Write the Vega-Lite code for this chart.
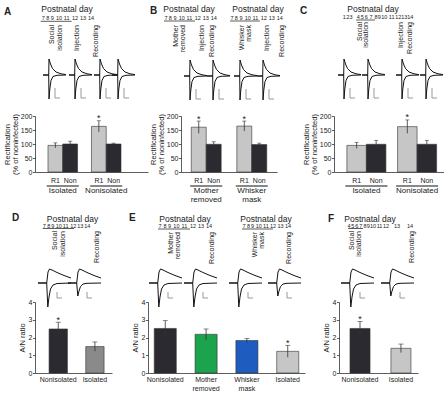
{
"$schema": "https://vega.github.io/schema/vega-lite/v6.json",
"background": "white",
"padding": {"left": 0, "top": 0, "right": 0, "bottom": 0},
"config": {
  "font": "Liberation Sans",
  "view": {"stroke": null},
  "text": {"color": "#222"},
  "axis": {"grid": false, "labelColor": "#222", "titleColor": "#222", "domainColor": "#333", "tickColor": "#333", "domainWidth": 0.8, "tickWidth": 0.8, "labelFontSize": 7, "titleFontSize": 7.5, "titleFontWeight": "normal"},
  "axisY": {"tickCount": 5, "labelOverlap": false},
  "concat": {"spacing": 0}
},
"datasets": {
  "rec": [
    {"c":"u","i":0,"t":-6,"v":0},{"c":"u","i":1,"t":-0.3,"v":0},{"c":"u","i":2,"t":0,"v":16},{"c":"u","i":3,"t":1.5,"v":11},{"c":"u","i":4,"t":3.5,"v":6.5},{"c":"u","i":5,"t":7,"v":3},{"c":"u","i":6,"t":12,"v":1.2},{"c":"u","i":7,"t":17,"v":0.4},
    {"c":"d","i":0,"t":-6,"v":0},{"c":"d","i":1,"t":-0.3,"v":0},{"c":"d","i":2,"t":0,"v":-24},{"c":"d","i":3,"t":0.8,"v":-14},{"c":"d","i":4,"t":2,"v":-5.5},{"c":"d","i":5,"t":4,"v":-1.5},{"c":"d","i":6,"t":8,"v":-0.3},{"c":"d","i":7,"t":17,"v":0},
    {"c":"s","i":0,"t":6,"v":-13},{"c":"s","i":1,"t":6,"v":-23},{"c":"s","i":2,"t":11,"v":-23}
  ],
  "an": [
    {"c":"u","i":0,"t":-9,"v":0},{"c":"u","i":1,"t":-0.3,"v":0},{"c":"u","i":2,"t":1,"v":11},{"c":"u","i":3,"t":2.5,"v":14},{"c":"u","i":4,"t":5,"v":13},{"c":"u","i":5,"t":10,"v":10.5},{"c":"u","i":6,"t":17,"v":7.5},{"c":"u","i":7,"t":24,"v":5},
    {"c":"d","i":0,"t":-9,"v":0},{"c":"d","i":1,"t":-0.3,"v":0},{"c":"d","i":2,"t":0.8,"v":-24},{"c":"d","i":3,"t":2,"v":-14},{"c":"d","i":4,"t":3.5,"v":-6},{"c":"d","i":5,"t":6,"v":-2},{"c":"d","i":6,"t":10,"v":-0.5},{"c":"d","i":7,"t":24,"v":0},
    {"c":"s","i":0,"t":10,"v":-9},{"c":"s","i":1,"t":10,"v":-15},{"c":"s","i":2,"t":15,"v":-15}
  ],
  "an2": [
    {"c":"u","i":0,"t":-9,"v":0},{"c":"u","i":1,"t":-0.3,"v":0},{"c":"u","i":2,"t":1,"v":11},{"c":"u","i":3,"t":2.5,"v":14},{"c":"u","i":4,"t":5,"v":13},{"c":"u","i":5,"t":10,"v":10.5},{"c":"u","i":6,"t":17,"v":7.5},{"c":"u","i":7,"t":24,"v":5},
    {"c":"d","i":0,"t":-9,"v":0},{"c":"d","i":1,"t":-0.3,"v":0},{"c":"d","i":2,"t":0.8,"v":-13},{"c":"d","i":3,"t":2,"v":-8},{"c":"d","i":4,"t":3.5,"v":-3.5},{"c":"d","i":5,"t":6,"v":-1},{"c":"d","i":6,"t":10,"v":-0.3},{"c":"d","i":7,"t":24,"v":0},
    {"c":"s","i":0,"t":10,"v":-9},{"c":"s","i":1,"t":10,"v":-15},{"c":"s","i":2,"t":15,"v":-15}
  ],
  "hA": [
    {"k":"P","t":"","x":-34,"y":206},
    {"k":"L","t":"A","x":-31,"y":11.5},
    {"k":"T","t":"Postnatal day","x":32,"y":8.5},
    {"k":"D","t":"7","x":8.3,"y":17.5},{"k":"D","t":"8","x":12.7,"y":17.5},{"k":"D","t":"9","x":17.3,"y":17.5},{"k":"D","t":"10","x":24,"y":17.5},{"k":"D","t":"11","x":31.7,"y":17.5},{"k":"D","t":"12","x":40,"y":17.5},{"k":"D","t":"13","x":48,"y":17.5},{"k":"D","t":"14","x":56,"y":17.5},
    {"k":"U","t":"","x":5.7,"x2":36.7,"y":21.3},
    {"k":"R","t":"Social","x":17,"y":25},{"k":"R","t":"isolation","x":25,"y":25},{"k":"R","t":"Injection","x":42,"y":25},{"k":"R","t":"Recording","x":61,"y":25}
  ],
  "hB": [
    {"k":"L","t":"B","x":-31,"y":11},
    {"k":"T","t":"Postnatal day","x":8,"y":8.5},{"k":"T","t":"Postnatal day","x":77,"y":8.5},
    {"k":"D","t":"7","x":-15,"y":17.5},{"k":"D","t":"8","x":-10.6,"y":17.5},{"k":"D","t":"9","x":-6,"y":17.5},{"k":"D","t":"10","x":0.7,"y":17.5},{"k":"D","t":"11","x":8.4,"y":17.5},{"k":"D","t":"12","x":16.7,"y":17.5},{"k":"D","t":"13","x":24.7,"y":17.5},{"k":"D","t":"14","x":32.7,"y":17.5},
    {"k":"D","t":"7","x":51,"y":17.5},{"k":"D","t":"8","x":55.4,"y":17.5},{"k":"D","t":"9","x":60,"y":17.5},{"k":"D","t":"10","x":66.7,"y":17.5},{"k":"D","t":"11","x":74.4,"y":17.5},{"k":"D","t":"12","x":82.7,"y":17.5},{"k":"D","t":"13","x":90.7,"y":17.5},{"k":"D","t":"14","x":98.7,"y":17.5},
    {"k":"U","t":"","x":-17,"x2":14,"y":21},{"k":"U","t":"","x":49,"x2":79,"y":21},
    {"k":"R","t":"Mother","x":-5,"y":25},{"k":"R","t":"removed","x":2,"y":25},{"k":"R","t":"Injection","x":21,"y":25},{"k":"R","t":"Recording","x":31,"y":25},
    {"k":"R","t":"Whisker","x":61,"y":25},{"k":"R","t":"mask","x":68,"y":25},{"k":"R","t":"Injection","x":86,"y":25},{"k":"R","t":"Recording","x":101,"y":25}
  ],
  "hC": [
    {"k":"L","t":"C","x":-34,"y":11},
    {"k":"T","t":"Postnatal day","x":39,"y":8.5},
    {"k":"D","t":"1","x":10.3,"y":16.5},{"k":"D","t":"2","x":13.7,"y":16.5},{"k":"D","t":"3","x":17,"y":16.5},{"k":"D","t":"4","x":24.3,"y":16.5},{"k":"D","t":"5","x":28.3,"y":16.5},{"k":"D","t":"6","x":32.3,"y":16.5},{"k":"D","t":"7","x":37,"y":16.5},{"k":"D","t":"8","x":42,"y":16.5},{"k":"D","t":"9","x":45.3,"y":16.5},{"k":"D","t":"10","x":50.3,"y":16.5},{"k":"D","t":"11","x":57.7,"y":16.5},{"k":"D","t":"12","x":64.3,"y":16.5},{"k":"D","t":"13","x":70.3,"y":16.5},{"k":"D","t":"14","x":76.3,"y":16.5},
    {"k":"U","t":"","x":22,"x2":41,"y":20},
    {"k":"R","t":"Social","x":26,"y":22},{"k":"R","t":"isolation","x":32,"y":22},{"k":"R","t":"Injection","x":67,"y":22},{"k":"R","t":"Recording","x":76,"y":22}
  ],
  "hD": [
    {"k":"P","t":"","x":-34,"y":0},
    {"k":"L","t":"D","x":-23,"y":10},
    {"k":"T","t":"Postnatal day","x":37.5,"y":10.5},
    {"k":"D","t":"7","x":9.3,"y":17.5},{"k":"D","t":"8","x":13.7,"y":17.5},{"k":"D","t":"9","x":17.7,"y":17.5},{"k":"D","t":"10","x":23.7,"y":17.5},{"k":"D","t":"11","x":30.7,"y":17.5},{"k":"D","t":"12","x":38.3,"y":17.5},{"k":"D","t":"13","x":45.3,"y":17.5},{"k":"D","t":"14","x":52.3,"y":17.5},
    {"k":"U","t":"","x":7.7,"x2":39,"y":20.5},
    {"k":"R","t":"Social","x":20,"y":23},{"k":"R","t":"isolation","x":27.7,"y":23},{"k":"R","t":"Recording","x":61.7,"y":23}
  ],
  "hE": [
    {"k":"L","t":"E","x":-19,"y":10},
    {"k":"T","t":"Postnatal day","x":37,"y":10.5},{"k":"T","t":"Postnatal day","x":118,"y":10.5},
    {"k":"D","t":"7","x":12,"y":18},{"k":"D","t":"8","x":17,"y":18},{"k":"D","t":"9","x":21.6,"y":18},{"k":"D","t":"10","x":28.4,"y":18},{"k":"D","t":"11","x":36.4,"y":18},{"k":"D","t":"12","x":45,"y":18},{"k":"D","t":"13","x":53,"y":18},{"k":"D","t":"14","x":61,"y":18},
    {"k":"D","t":"7","x":96,"y":18},{"k":"D","t":"8","x":100.5,"y":18},{"k":"D","t":"9","x":104.6,"y":18},{"k":"D","t":"10","x":110.7,"y":18},{"k":"D","t":"11","x":117.9,"y":18},{"k":"D","t":"12","x":125,"y":18},{"k":"D","t":"13","x":132.5,"y":18},{"k":"D","t":"14","x":140,"y":18},
    {"k":"U","t":"","x":10,"x2":42,"y":21},{"k":"U","t":"","x":94,"x2":125,"y":21},
    {"k":"R","t":"Mother","x":23,"y":24},{"k":"R","t":"removed","x":30,"y":24},{"k":"R","t":"Recording","x":64,"y":24},
    {"k":"R","t":"Whisker","x":107,"y":24},{"k":"R","t":"mask","x":114,"y":24},{"k":"R","t":"Recording","x":141,"y":24}
  ],
  "hF": [
    {"k":"L","t":"F","x":-11,"y":11},
    {"k":"T","t":"Postnatal day","x":31,"y":10.5},
    {"k":"D","t":"4","x":10,"y":18},{"k":"D","t":"5","x":13.7,"y":18},{"k":"D","t":"6","x":17.7,"y":18},{"k":"D","t":"7","x":21.7,"y":18},{"k":"D","t":"8","x":26,"y":18},{"k":"D","t":"9","x":29.3,"y":18},{"k":"D","t":"10","x":34,"y":18},{"k":"D","t":"11","x":40.5,"y":18},{"k":"D","t":"12","x":47,"y":18},{"k":"D","t":"13","x":58,"y":18},{"k":"D","t":"14","x":71,"y":18},
    {"k":"U","t":"","x":9,"x2":24,"y":20.5},
    {"k":"R","t":"Social","x":12.7,"y":23},{"k":"R","t":"isolation","x":20.3,"y":23},{"k":"R","t":"Recording","x":72.7,"y":23}
  ],
  "bA": [
    {"g":"Isolated","type":"R1","value":95,"lo":86,"hi":104,"sig":""},
    {"g":"Isolated","type":"Non","value":100,"lo":90,"hi":110,"sig":""},
    {"g":"Nonisolated","type":"R1","value":163,"lo":143,"hi":183,"sig":"*"},
    {"g":"Nonisolated","type":"Non","value":100,"lo":97,"hi":103,"sig":""}
  ],
  "bB": [
    {"g":"Mother removed","type":"R1","value":160,"lo":138,"hi":182,"sig":"*"},
    {"g":"Mother removed","type":"Non","value":99,"lo":90,"hi":108,"sig":""},
    {"g":"Whisker mask","type":"R1","value":164,"lo":146,"hi":182,"sig":"*"},
    {"g":"Whisker mask","type":"Non","value":98,"lo":94,"hi":103,"sig":""}
  ],
  "bC": [
    {"g":"Isolated","type":"R1","value":95,"lo":84,"hi":106,"sig":""},
    {"g":"Isolated","type":"Non","value":99,"lo":86,"hi":113,"sig":""},
    {"g":"Nonisolated","type":"R1","value":162,"lo":138,"hi":186,"sig":"*"},
    {"g":"Nonisolated","type":"Non","value":99,"lo":86,"hi":113,"sig":""}
  ],
  "bD": [
    {"g":"Nonisolated","value":2.48,"lo":2.1,"hi":2.86,"sig":"*"},
    {"g":"Isolated","value":1.49,"lo":1.23,"hi":1.75,"sig":""}
  ],
  "bE": [
    {"g":"Nonisolated","value":2.51,"lo":2.07,"hi":2.95,"sig":""},
    {"g":"Mother removed","value":2.18,"lo":1.87,"hi":2.48,"sig":""},
    {"g":"Whisker mask","value":1.83,"lo":1.72,"hi":1.94,"sig":""},
    {"g":"Isolated","value":1.22,"lo":0.89,"hi":1.56,"sig":"*"}
  ],
  "bF": [
    {"g":"Nonisolated","value":2.51,"lo":2.12,"hi":2.9,"sig":"*"},
    {"g":"Isolated","value":1.39,"lo":1.15,"hi":1.63,"sig":""}
  ],
  "blank": [{"a": 0}]
},
"spacing": 0,
"bounds": "full",
"resolve": {"scale": {"color": "independent", "xOffset": "independent"}},
"vconcat": [
{
"columns": 5, "spacing": 0, "bounds": "flush",
"resolve": {"scale": {"color": "independent", "xOffset": "independent"}},
"concat": [
{
 "width": 113, "height": 116,
 "resolve": {"scale": {"x": "independent", "y": "independent"}},
 "layer": [
  {"data": {"name": "hA"},
   "encoding": {"x": {"field": "x", "type": "quantitative", "scale": {"domain": [0, 113], "nice": false, "zero": false}, "axis": null},
                "y": {"field": "y", "type": "quantitative", "scale": {"domain": [0, 116], "nice": false, "zero": false, "reverse": true}, "axis": null}},
   "layer": [
    {"transform": [{"filter": "datum.k=='P'"}], "mark": {"type": "point", "opacity": 0, "size": 4}},
    {"transform": [{"filter": "datum.k=='L'"}], "mark": {"type": "text", "fontSize": 10, "fontWeight": "bold", "align": "left"}, "encoding": {"text": {"field": "t"}}},
    {"transform": [{"filter": "datum.k=='T'"}], "mark": {"type": "text", "fontSize": 8.5}, "encoding": {"text": {"field": "t"}}},
    {"transform": [{"filter": "datum.k=='D'"}], "mark": {"type": "text", "fontSize": 5.5}, "encoding": {"text": {"field": "t"}}},
    {"transform": [{"filter": "datum.k=='R'"}], "mark": {"type": "text", "fontSize": 7, "angle": 270, "align": "right"}, "encoding": {"text": {"field": "t"}}},
    {"transform": [{"filter": "datum.k=='U'"}], "mark": {"type": "rule", "strokeWidth": 0.8, "color": "#333"}, "encoding": {"x2": {"field": "x2"}}}
   ]},
  {"data": {"name": "rec"}, "mark": {"type": "line", "strokeWidth": 1}, "encoding": {"x": {"field": "t", "type": "quantitative", "scale": {"domain": [-14, 99], "nice": false, "zero": false}, "axis": null}, "y": {"field": "v", "type": "quantitative", "scale": {"domain": [-41, 75], "nice": false, "zero": false}, "axis": null}, "color": {"field": "c", "type": "nominal", "scale": {"domain": ["u", "d", "s"], "range": ["#111", "#111", "#999"]}, "legend": null}, "order": {"field": "i", "type": "quantitative"}}},
  {"data": {"name": "rec"}, "mark": {"type": "line", "strokeWidth": 1}, "encoding": {"x": {"field": "t", "type": "quantitative", "scale": {"domain": [-40, 73], "nice": false, "zero": false}, "axis": null}, "y": {"field": "v", "type": "quantitative", "scale": {"domain": [-41, 75], "nice": false, "zero": false}, "axis": null}, "color": {"field": "c", "type": "nominal", "scale": {"domain": ["u", "d", "s"], "range": ["#111", "#111", "#999"]}, "legend": null}, "order": {"field": "i", "type": "quantitative"}}},
  {"data": {"name": "rec"}, "mark": {"type": "line", "strokeWidth": 1}, "encoding": {"x": {"field": "t", "type": "quantitative", "scale": {"domain": [-65, 48], "nice": false, "zero": false}, "axis": null}, "y": {"field": "v", "type": "quantitative", "scale": {"domain": [-41, 75], "nice": false, "zero": false}, "axis": null}, "color": {"field": "c", "type": "nominal", "scale": {"domain": ["u", "d", "s"], "range": ["#111", "#111", "#999"]}, "legend": null}, "order": {"field": "i", "type": "quantitative"}}},
  {"data": {"name": "rec"}, "mark": {"type": "line", "strokeWidth": 1}, "encoding": {"x": {"field": "t", "type": "quantitative", "scale": {"domain": [-83, 30], "nice": false, "zero": false}, "axis": null}, "y": {"field": "v", "type": "quantitative", "scale": {"domain": [-41, 75], "nice": false, "zero": false}, "axis": null}, "color": {"field": "c", "type": "nominal", "scale": {"domain": ["u", "d", "s"], "range": ["#111", "#111", "#999"]}, "legend": null}, "order": {"field": "i", "type": "quantitative"}}}
 ]
},
{"width": 33, "height": 116, "data": {"name": "blank"}, "mark": {"type": "point", "opacity": 0}},
{
 "width": 96, "height": 116,
 "resolve": {"scale": {"x": "independent", "y": "independent"}},
 "layer": [
  {"data": {"name": "hB"},
   "encoding": {"x": {"field": "x", "type": "quantitative", "scale": {"domain": [0, 96], "nice": false, "zero": false}, "axis": null},
                "y": {"field": "y", "type": "quantitative", "scale": {"domain": [0, 116], "nice": false, "zero": false, "reverse": true}, "axis": null}},
   "layer": [
    {"transform": [{"filter": "datum.k=='L'"}], "mark": {"type": "text", "fontSize": 10, "fontWeight": "bold", "align": "left"}, "encoding": {"text": {"field": "t"}}},
    {"transform": [{"filter": "datum.k=='T'"}], "mark": {"type": "text", "fontSize": 8.5}, "encoding": {"text": {"field": "t"}}},
    {"transform": [{"filter": "datum.k=='D'"}], "mark": {"type": "text", "fontSize": 5.5}, "encoding": {"text": {"field": "t"}}},
    {"transform": [{"filter": "datum.k=='R'"}], "mark": {"type": "text", "fontSize": 7, "angle": 270, "align": "right"}, "encoding": {"text": {"field": "t"}}},
    {"transform": [{"filter": "datum.k=='U'"}], "mark": {"type": "rule", "strokeWidth": 0.8, "color": "#333"}, "encoding": {"x2": {"field": "x2"}}}
   ]},
  {"data": {"name": "rec"}, "mark": {"type": "line", "strokeWidth": 1}, "encoding": {"x": {"field": "t", "type": "quantitative", "scale": {"domain": [-9, 87], "nice": false, "zero": false}, "axis": null}, "y": {"field": "v", "type": "quantitative", "scale": {"domain": [-40, 76], "nice": false, "zero": false}, "axis": null}, "color": {"field": "c", "type": "nominal", "scale": {"domain": ["u", "d", "s"], "range": ["#111", "#111", "#999"]}, "legend": null}, "order": {"field": "i", "type": "quantitative"}}},
  {"data": {"name": "rec"}, "mark": {"type": "line", "strokeWidth": 1}, "encoding": {"x": {"field": "t", "type": "quantitative", "scale": {"domain": [-32, 64], "nice": false, "zero": false}, "axis": null}, "y": {"field": "v", "type": "quantitative", "scale": {"domain": [-40, 76], "nice": false, "zero": false}, "axis": null}, "color": {"field": "c", "type": "nominal", "scale": {"domain": ["u", "d", "s"], "range": ["#111", "#111", "#999"]}, "legend": null}, "order": {"field": "i", "type": "quantitative"}}},
  {"data": {"name": "rec"}, "mark": {"type": "line", "strokeWidth": 1}, "encoding": {"x": {"field": "t", "type": "quantitative", "scale": {"domain": [-59, 37], "nice": false, "zero": false}, "axis": null}, "y": {"field": "v", "type": "quantitative", "scale": {"domain": [-40, 76], "nice": false, "zero": false}, "axis": null}, "color": {"field": "c", "type": "nominal", "scale": {"domain": ["u", "d", "s"], "range": ["#111", "#111", "#999"]}, "legend": null}, "order": {"field": "i", "type": "quantitative"}}},
  {"data": {"name": "rec"}, "mark": {"type": "line", "strokeWidth": 1}, "encoding": {"x": {"field": "t", "type": "quantitative", "scale": {"domain": [-82, 14], "nice": false, "zero": false}, "axis": null}, "y": {"field": "v", "type": "quantitative", "scale": {"domain": [-40, 76], "nice": false, "zero": false}, "axis": null}, "color": {"field": "c", "type": "nominal", "scale": {"domain": ["u", "d", "s"], "range": ["#111", "#111", "#999"]}, "legend": null}, "order": {"field": "i", "type": "quantitative"}}}
 ]
},
{"width": 57, "height": 116, "data": {"name": "blank"}, "mark": {"type": "point", "opacity": 0}},
{
 "width": 110, "height": 116,
 "resolve": {"scale": {"x": "independent", "y": "independent"}},
 "layer": [
  {"data": {"name": "hC"},
   "encoding": {"x": {"field": "x", "type": "quantitative", "scale": {"domain": [0, 110], "nice": false, "zero": false}, "axis": null},
                "y": {"field": "y", "type": "quantitative", "scale": {"domain": [0, 116], "nice": false, "zero": false, "reverse": true}, "axis": null}},
   "layer": [
    {"transform": [{"filter": "datum.k=='L'"}], "mark": {"type": "text", "fontSize": 10, "fontWeight": "bold", "align": "left"}, "encoding": {"text": {"field": "t"}}},
    {"transform": [{"filter": "datum.k=='T'"}], "mark": {"type": "text", "fontSize": 8.5}, "encoding": {"text": {"field": "t"}}},
    {"transform": [{"filter": "datum.k=='D'"}], "mark": {"type": "text", "fontSize": 5.5}, "encoding": {"text": {"field": "t"}}},
    {"transform": [{"filter": "datum.k=='R'"}], "mark": {"type": "text", "fontSize": 7, "angle": 270, "align": "right"}, "encoding": {"text": {"field": "t"}}},
    {"transform": [{"filter": "datum.k=='U'"}], "mark": {"type": "rule", "strokeWidth": 0.8, "color": "#333"}, "encoding": {"x2": {"field": "x2"}}}
   ]},
  {"data": {"name": "rec"}, "mark": {"type": "line", "strokeWidth": 1}, "encoding": {"x": {"field": "t", "type": "quantitative", "scale": {"domain": [-10, 100], "nice": false, "zero": false}, "axis": null}, "y": {"field": "v", "type": "quantitative", "scale": {"domain": [-41, 75], "nice": false, "zero": false}, "axis": null}, "color": {"field": "c", "type": "nominal", "scale": {"domain": ["u", "d", "s"], "range": ["#111", "#111", "#999"]}, "legend": null}, "order": {"field": "i", "type": "quantitative"}}},
  {"data": {"name": "rec"}, "mark": {"type": "line", "strokeWidth": 1}, "encoding": {"x": {"field": "t", "type": "quantitative", "scale": {"domain": [-34, 76], "nice": false, "zero": false}, "axis": null}, "y": {"field": "v", "type": "quantitative", "scale": {"domain": [-41, 75], "nice": false, "zero": false}, "axis": null}, "color": {"field": "c", "type": "nominal", "scale": {"domain": ["u", "d", "s"], "range": ["#111", "#111", "#999"]}, "legend": null}, "order": {"field": "i", "type": "quantitative"}}},
  {"data": {"name": "rec"}, "mark": {"type": "line", "strokeWidth": 1}, "encoding": {"x": {"field": "t", "type": "quantitative", "scale": {"domain": [-68, 42], "nice": false, "zero": false}, "axis": null}, "y": {"field": "v", "type": "quantitative", "scale": {"domain": [-41, 75], "nice": false, "zero": false}, "axis": null}, "color": {"field": "c", "type": "nominal", "scale": {"domain": ["u", "d", "s"], "range": ["#111", "#111", "#999"]}, "legend": null}, "order": {"field": "i", "type": "quantitative"}}},
  {"data": {"name": "rec"}, "mark": {"type": "line", "strokeWidth": 1}, "encoding": {"x": {"field": "t", "type": "quantitative", "scale": {"domain": [-92, 18], "nice": false, "zero": false}, "axis": null}, "y": {"field": "v", "type": "quantitative", "scale": {"domain": [-41, 75], "nice": false, "zero": false}, "axis": null}, "color": {"field": "c", "type": "nominal", "scale": {"domain": ["u", "d", "s"], "range": ["#111", "#111", "#999"]}, "legend": null}, "order": {"field": "i", "type": "quantitative"}}}
 ]
},
{
 "width": 113, "height": 56,
 "data": {"name": "bA"},
 "resolve": {"axis": {"y": "independent"}},
 "encoding": {"x": {"field": "g", "type": "nominal", "sort": null, "scale": {"paddingInner": 0.32, "paddingOuter": 0.46, "align": 0.325}, "axis": {"title": null, "labelAngle": 0, "ticks": false, "labelPadding": 14, "labelFontSize": 8, "labelExpr": "split(datum.label,' ')", "labelLineHeight": 9}}},
 "layer": [
  {"mark": {"type": "bar", "stroke": "#333", "strokeWidth": 0.6}, "encoding": {"xOffset": {"field": "type", "type": "nominal", "sort": ["R1", "Non"], "scale": {"paddingInner": 0, "paddingOuter": 0}}, "y": {"field": "value", "type": "quantitative", "scale": {"domain": [0, 200], "nice": false}, "axis": {"values": [0, 50, 100, 150, 200], "labelOverlap": false, "title": ["Rectification", "(% of noninfected)"], "tickSize": 2.5, "labelPadding": 0.5, "titlePadding": 1, "titleLineHeight": 8}}, "color": {"field": "type", "type": "nominal", "scale": {"domain": ["R1", "Non"], "range": ["#c6c6c6", "#2a2a30"]}, "legend": null}}},
  {"mark": {"type": "rule", "color": "#333", "strokeWidth": 0.8}, "encoding": {"xOffset": {"field": "type", "type": "nominal", "sort": ["R1", "Non"]}, "y": {"field": "lo", "type": "quantitative", "scale": {"domain": [0, 200], "nice": false}, "axis": null}, "y2": {"field": "hi"}}},
  {"mark": {"type": "tick", "color": "#333", "size": 4, "thickness": 0.8}, "encoding": {"xOffset": {"field": "type", "type": "nominal", "sort": ["R1", "Non"]}, "y": {"field": "hi", "type": "quantitative", "scale": {"domain": [0, 200], "nice": false}, "axis": null}}},
  {"mark": {"type": "text", "fontSize": 9, "baseline": "alphabetic", "dy": 0.5}, "encoding": {"xOffset": {"field": "type", "type": "nominal", "sort": ["R1", "Non"]}, "y": {"field": "hi", "type": "quantitative", "scale": {"domain": [0, 200], "nice": false}, "axis": null}, "text": {"field": "sig"}}},
  {"mark": {"type": "text", "fontSize": 7, "dy": 9}, "encoding": {"xOffset": {"field": "type", "type": "nominal", "sort": ["R1", "Non"]}, "y": {"datum": 0, "type": "quantitative", "scale": {"domain": [0, 200], "nice": false}, "axis": null}, "text": {"field": "type"}}},
  {"mark": {"type": "tick", "color": "#333", "size": 32, "thickness": 0.8}, "encoding": {"y": {"datum": -50, "type": "quantitative", "scale": {"domain": [0, 200], "nice": false}, "axis": null}}}
 ]
},
{"width": 33, "height": 56, "data": {"name": "blank"}, "mark": {"type": "point", "opacity": 0}},
{
 "width": 96, "height": 56,
 "data": {"name": "bB"},
 "resolve": {"axis": {"y": "independent"}},
 "encoding": {"x": {"field": "g", "type": "nominal", "sort": null, "scale": {"paddingInner": 0.343, "paddingOuter": 0.225, "align": 0.5}, "axis": {"title": null, "labelAngle": 0, "ticks": false, "labelPadding": 14, "labelFontSize": 8, "labelExpr": "split(datum.label,' ')", "labelLineHeight": 9}}},
 "layer": [
  {"mark": {"type": "bar", "stroke": "#333", "strokeWidth": 0.6}, "encoding": {"xOffset": {"field": "type", "type": "nominal", "sort": ["R1", "Non"], "scale": {"paddingInner": 0, "paddingOuter": 0}}, "y": {"field": "value", "type": "quantitative", "scale": {"domain": [0, 200], "nice": false}, "axis": {"values": [0, 50, 100, 150, 200], "labelOverlap": false, "title": ["Rectification", "(% of noninfected)"], "tickSize": 2.5, "labelPadding": 0.5, "titlePadding": 1, "titleLineHeight": 8}}, "color": {"field": "type", "type": "nominal", "scale": {"domain": ["R1", "Non"], "range": ["#c6c6c6", "#2a2a30"]}, "legend": null}}},
  {"mark": {"type": "rule", "color": "#333", "strokeWidth": 0.8}, "encoding": {"xOffset": {"field": "type", "type": "nominal", "sort": ["R1", "Non"]}, "y": {"field": "lo", "type": "quantitative", "scale": {"domain": [0, 200], "nice": false}, "axis": null}, "y2": {"field": "hi"}}},
  {"mark": {"type": "tick", "color": "#333", "size": 4, "thickness": 0.8}, "encoding": {"xOffset": {"field": "type", "type": "nominal", "sort": ["R1", "Non"]}, "y": {"field": "hi", "type": "quantitative", "scale": {"domain": [0, 200], "nice": false}, "axis": null}}},
  {"mark": {"type": "text", "fontSize": 9, "baseline": "alphabetic", "dy": 0.5}, "encoding": {"xOffset": {"field": "type", "type": "nominal", "sort": ["R1", "Non"]}, "y": {"field": "hi", "type": "quantitative", "scale": {"domain": [0, 200], "nice": false}, "axis": null}, "text": {"field": "sig"}}},
  {"mark": {"type": "text", "fontSize": 7, "dy": 9}, "encoding": {"xOffset": {"field": "type", "type": "nominal", "sort": ["R1", "Non"]}, "y": {"datum": 0, "type": "quantitative", "scale": {"domain": [0, 200], "nice": false}, "axis": null}, "text": {"field": "type"}}},
  {"mark": {"type": "tick", "color": "#333", "size": 32, "thickness": 0.8}, "encoding": {"y": {"datum": -50, "type": "quantitative", "scale": {"domain": [0, 200], "nice": false}, "axis": null}}}
 ]
},
{"width": 57, "height": 56, "data": {"name": "blank"}, "mark": {"type": "point", "opacity": 0}},
{
 "width": 110, "height": 56,
 "data": {"name": "bC"},
 "resolve": {"axis": {"y": "independent"}},
 "encoding": {"x": {"field": "g", "type": "nominal", "sort": null, "scale": {"paddingInner": 0.23, "paddingOuter": 0.2, "align": 0.635}, "axis": {"title": null, "labelAngle": 0, "ticks": false, "labelPadding": 14, "labelFontSize": 8, "labelExpr": "split(datum.label,' ')", "labelLineHeight": 9}}},
 "layer": [
  {"mark": {"type": "bar", "stroke": "#333", "strokeWidth": 0.6}, "encoding": {"xOffset": {"field": "type", "type": "nominal", "sort": ["R1", "Non"], "scale": {"paddingInner": 0, "paddingOuter": 0}}, "y": {"field": "value", "type": "quantitative", "scale": {"domain": [0, 200], "nice": false}, "axis": {"values": [0, 50, 100, 150, 200], "labelOverlap": false, "title": ["Rectification", "(% of noninfected)"], "tickSize": 2.5, "labelPadding": 0.5, "titlePadding": 1, "titleLineHeight": 8}}, "color": {"field": "type", "type": "nominal", "scale": {"domain": ["R1", "Non"], "range": ["#c6c6c6", "#2a2a30"]}, "legend": null}}},
  {"mark": {"type": "rule", "color": "#333", "strokeWidth": 0.8}, "encoding": {"xOffset": {"field": "type", "type": "nominal", "sort": ["R1", "Non"]}, "y": {"field": "lo", "type": "quantitative", "scale": {"domain": [0, 200], "nice": false}, "axis": null}, "y2": {"field": "hi"}}},
  {"mark": {"type": "tick", "color": "#333", "size": 4, "thickness": 0.8}, "encoding": {"xOffset": {"field": "type", "type": "nominal", "sort": ["R1", "Non"]}, "y": {"field": "hi", "type": "quantitative", "scale": {"domain": [0, 200], "nice": false}, "axis": null}}},
  {"mark": {"type": "text", "fontSize": 9, "baseline": "alphabetic", "dy": 0.5}, "encoding": {"xOffset": {"field": "type", "type": "nominal", "sort": ["R1", "Non"]}, "y": {"field": "hi", "type": "quantitative", "scale": {"domain": [0, 200], "nice": false}, "axis": null}, "text": {"field": "sig"}}},
  {"mark": {"type": "text", "fontSize": 7, "dy": 9}, "encoding": {"xOffset": {"field": "type", "type": "nominal", "sort": ["R1", "Non"]}, "y": {"datum": 0, "type": "quantitative", "scale": {"domain": [0, 200], "nice": false}, "axis": null}, "text": {"field": "type"}}},
  {"mark": {"type": "tick", "color": "#333", "size": 42, "thickness": 0.8}, "encoding": {"y": {"datum": -50, "type": "quantitative", "scale": {"domain": [0, 200], "nice": false}, "axis": null}}}
 ]
}
]
},
{
"columns": 5, "spacing": 0, "bounds": "flush",
"resolve": {"scale": {"color": "independent", "xOffset": "independent"}},
"concat": [
{
 "width": 77, "height": 94,
 "resolve": {"scale": {"x": "independent", "y": "independent"}},
 "layer": [
  {"data": {"name": "hD"},
   "encoding": {"x": {"field": "x", "type": "quantitative", "scale": {"domain": [0, 77], "nice": false, "zero": false}, "axis": null},
                "y": {"field": "y", "type": "quantitative", "scale": {"domain": [0, 94], "nice": false, "zero": false, "reverse": true}, "axis": null}},
   "layer": [
    {"transform": [{"filter": "datum.k=='P'"}], "mark": {"type": "point", "opacity": 0, "size": 4}},
    {"transform": [{"filter": "datum.k=='L'"}], "mark": {"type": "text", "fontSize": 10, "fontWeight": "bold", "align": "left"}, "encoding": {"text": {"field": "t"}}},
    {"transform": [{"filter": "datum.k=='T'"}], "mark": {"type": "text", "fontSize": 8.5}, "encoding": {"text": {"field": "t"}}},
    {"transform": [{"filter": "datum.k=='D'"}], "mark": {"type": "text", "fontSize": 5.5}, "encoding": {"text": {"field": "t"}}},
    {"transform": [{"filter": "datum.k=='R'"}], "mark": {"type": "text", "fontSize": 7, "angle": 270, "align": "right"}, "encoding": {"text": {"field": "t"}}},
    {"transform": [{"filter": "datum.k=='U'"}], "mark": {"type": "rule", "strokeWidth": 0.8, "color": "#333"}, "encoding": {"x2": {"field": "x2"}}}
   ]},
  {"data": {"name": "an"}, "mark": {"type": "line", "strokeWidth": 1}, "encoding": {"x": {"field": "t", "type": "quantitative", "scale": {"domain": [-12, 65], "nice": false, "zero": false}, "axis": null}, "y": {"field": "v", "type": "quantitative", "scale": {"domain": [-19, 75], "nice": false, "zero": false}, "axis": null}, "color": {"field": "c", "type": "nominal", "scale": {"domain": ["u", "d", "s"], "range": ["#111", "#111", "#999"]}, "legend": null}, "order": {"field": "i", "type": "quantitative"}}},
  {"data": {"name": "an2"}, "mark": {"type": "line", "strokeWidth": 1}, "encoding": {"x": {"field": "t", "type": "quantitative", "scale": {"domain": [-42, 35], "nice": false, "zero": false}, "axis": null}, "y": {"field": "v", "type": "quantitative", "scale": {"domain": [-19, 75], "nice": false, "zero": false}, "axis": null}, "color": {"field": "c", "type": "nominal", "scale": {"domain": ["u", "d", "s"], "range": ["#111", "#111", "#999"]}, "legend": null}, "order": {"field": "i", "type": "quantitative"}}}
 ]
},
{"width": 36, "height": 94, "data": {"name": "blank"}, "mark": {"type": "point", "opacity": 0}},
{
 "width": 157, "height": 94,
 "resolve": {"scale": {"x": "independent", "y": "independent"}},
 "layer": [
  {"data": {"name": "hE"},
   "encoding": {"x": {"field": "x", "type": "quantitative", "scale": {"domain": [0, 157], "nice": false, "zero": false}, "axis": null},
                "y": {"field": "y", "type": "quantitative", "scale": {"domain": [0, 94], "nice": false, "zero": false, "reverse": true}, "axis": null}},
   "layer": [
    {"transform": [{"filter": "datum.k=='L'"}], "mark": {"type": "text", "fontSize": 10, "fontWeight": "bold", "align": "left"}, "encoding": {"text": {"field": "t"}}},
    {"transform": [{"filter": "datum.k=='T'"}], "mark": {"type": "text", "fontSize": 8.5}, "encoding": {"text": {"field": "t"}}},
    {"transform": [{"filter": "datum.k=='D'"}], "mark": {"type": "text", "fontSize": 5.5}, "encoding": {"text": {"field": "t"}}},
    {"transform": [{"filter": "datum.k=='R'"}], "mark": {"type": "text", "fontSize": 7, "angle": 270, "align": "right"}, "encoding": {"text": {"field": "t"}}},
    {"transform": [{"filter": "datum.k=='U'"}], "mark": {"type": "rule", "strokeWidth": 0.8, "color": "#333"}, "encoding": {"x2": {"field": "x2"}}}
   ]},
  {"data": {"name": "an"}, "mark": {"type": "line", "strokeWidth": 1}, "encoding": {"x": {"field": "t", "type": "quantitative", "scale": {"domain": [-10, 147], "nice": false, "zero": false}, "axis": null}, "y": {"field": "v", "type": "quantitative", "scale": {"domain": [-19, 75], "nice": false, "zero": false}, "axis": null}, "color": {"field": "c", "type": "nominal", "scale": {"domain": ["u", "d", "s"], "range": ["#111", "#111", "#999"]}, "legend": null}, "order": {"field": "i", "type": "quantitative"}}},
  {"data": {"name": "an"}, "mark": {"type": "line", "strokeWidth": 1}, "encoding": {"x": {"field": "t", "type": "quantitative", "scale": {"domain": [-45, 112], "nice": false, "zero": false}, "axis": null}, "y": {"field": "v", "type": "quantitative", "scale": {"domain": [-19, 75], "nice": false, "zero": false}, "axis": null}, "color": {"field": "c", "type": "nominal", "scale": {"domain": ["u", "d", "s"], "range": ["#111", "#111", "#999"]}, "legend": null}, "order": {"field": "i", "type": "quantitative"}}},
  {"data": {"name": "an"}, "mark": {"type": "line", "strokeWidth": 1}, "encoding": {"x": {"field": "t", "type": "quantitative", "scale": {"domain": [-90, 67], "nice": false, "zero": false}, "axis": null}, "y": {"field": "v", "type": "quantitative", "scale": {"domain": [-19, 75], "nice": false, "zero": false}, "axis": null}, "color": {"field": "c", "type": "nominal", "scale": {"domain": ["u", "d", "s"], "range": ["#111", "#111", "#999"]}, "legend": null}, "order": {"field": "i", "type": "quantitative"}}},
  {"data": {"name": "an2"}, "mark": {"type": "line", "strokeWidth": 1}, "encoding": {"x": {"field": "t", "type": "quantitative", "scale": {"domain": [-129, 28], "nice": false, "zero": false}, "axis": null}, "y": {"field": "v", "type": "quantitative", "scale": {"domain": [-19, 75], "nice": false, "zero": false}, "axis": null}, "color": {"field": "c", "type": "nominal", "scale": {"domain": ["u", "d", "s"], "range": ["#111", "#111", "#999"]}, "legend": null}, "order": {"field": "i", "type": "quantitative"}}}
 ]
},
{"width": 34, "height": 94, "data": {"name": "blank"}, "mark": {"type": "point", "opacity": 0}},
{
 "width": 79, "height": 94,
 "resolve": {"scale": {"x": "independent", "y": "independent"}},
 "layer": [
  {"data": {"name": "hF"},
   "encoding": {"x": {"field": "x", "type": "quantitative", "scale": {"domain": [0, 79], "nice": false, "zero": false}, "axis": null},
                "y": {"field": "y", "type": "quantitative", "scale": {"domain": [0, 94], "nice": false, "zero": false, "reverse": true}, "axis": null}},
   "layer": [
    {"transform": [{"filter": "datum.k=='L'"}], "mark": {"type": "text", "fontSize": 10, "fontWeight": "bold", "align": "left"}, "encoding": {"text": {"field": "t"}}},
    {"transform": [{"filter": "datum.k=='T'"}], "mark": {"type": "text", "fontSize": 8.5}, "encoding": {"text": {"field": "t"}}},
    {"transform": [{"filter": "datum.k=='D'"}], "mark": {"type": "text", "fontSize": 5.5}, "encoding": {"text": {"field": "t"}}},
    {"transform": [{"filter": "datum.k=='R'"}], "mark": {"type": "text", "fontSize": 7, "angle": 270, "align": "right"}, "encoding": {"text": {"field": "t"}}},
    {"transform": [{"filter": "datum.k=='U'"}], "mark": {"type": "rule", "strokeWidth": 0.8, "color": "#333"}, "encoding": {"x2": {"field": "x2"}}}
   ]},
  {"data": {"name": "an"}, "mark": {"type": "line", "strokeWidth": 1}, "encoding": {"x": {"field": "t", "type": "quantitative", "scale": {"domain": [-11, 68], "nice": false, "zero": false}, "axis": null}, "y": {"field": "v", "type": "quantitative", "scale": {"domain": [-19, 75], "nice": false, "zero": false}, "axis": null}, "color": {"field": "c", "type": "nominal", "scale": {"domain": ["u", "d", "s"], "range": ["#111", "#111", "#999"]}, "legend": null}, "order": {"field": "i", "type": "quantitative"}}},
  {"data": {"name": "an2"}, "mark": {"type": "line", "strokeWidth": 1}, "encoding": {"x": {"field": "t", "type": "quantitative", "scale": {"domain": [-51, 28], "nice": false, "zero": false}, "axis": null}, "y": {"field": "v", "type": "quantitative", "scale": {"domain": [-19, 75], "nice": false, "zero": false}, "axis": null}, "color": {"field": "c", "type": "nominal", "scale": {"domain": ["u", "d", "s"], "range": ["#111", "#111", "#999"]}, "legend": null}, "order": {"field": "i", "type": "quantitative"}}}
 ]
},
{
 "width": 77, "height": 71,
 "data": {"name": "bD"},
 "encoding": {"x": {"field": "g", "type": "nominal", "sort": null, "scale": {"paddingInner": 0.5, "paddingOuter": 0.3, "align": 0.64}, "axis": {"title": null, "labelAngle": 0, "ticks": false, "labelPadding": 2.5, "labelFontSize": 7, "labelExpr": "split(datum.label,' ')", "labelLineHeight": 9}}},
 "layer": [
  {"mark": {"type": "bar", "stroke": "#333", "strokeWidth": 0.6}, "encoding": {"y": {"field": "value", "type": "quantitative", "scale": {"domain": [0, 4], "nice": false}, "axis": {"values": [0, 1, 2, 3, 4], "labelOverlap": false, "title": "A/N ratio", "tickSize": 2.5, "labelPadding": 0.5, "titlePadding": 1.5}}, "color": {"field": "g", "type": "nominal", "scale": {"domain": ["Nonisolated", "Isolated"], "range": ["#2a2a30", "#8a8a8a"]}, "legend": null}}},
  {"mark": {"type": "rule", "color": "#333", "strokeWidth": 0.8}, "encoding": {"y": {"field": "lo", "type": "quantitative", "scale": {"domain": [0, 4], "nice": false}, "axis": {"values": [0, 1, 2, 3, 4], "labelOverlap": false, "title": "A/N ratio", "tickSize": 2.5, "labelPadding": 0.5, "titlePadding": 1.5}}, "y2": {"field": "hi"}}},
  {"mark": {"type": "tick", "color": "#333", "size": 5, "thickness": 0.8}, "encoding": {"y": {"field": "hi", "type": "quantitative", "scale": {"domain": [0, 4], "nice": false}, "axis": {"values": [0, 1, 2, 3, 4], "labelOverlap": false, "title": "A/N ratio", "tickSize": 2.5, "labelPadding": 0.5, "titlePadding": 1.5}}}},
  {"mark": {"type": "text", "fontSize": 9, "baseline": "alphabetic", "dy": 0.5}, "encoding": {"y": {"field": "hi", "type": "quantitative", "scale": {"domain": [0, 4], "nice": false}, "axis": {"values": [0, 1, 2, 3, 4], "labelOverlap": false, "title": "A/N ratio", "tickSize": 2.5, "labelPadding": 0.5, "titlePadding": 1.5}}, "text": {"field": "sig"}}}
 ]
},
{"width": 36, "height": 71, "data": {"name": "blank"}, "mark": {"type": "point", "opacity": 0}},
{
 "width": 157, "height": 71,
 "data": {"name": "bE"},
 "encoding": {"x": {"field": "g", "type": "nominal", "sort": null, "scale": {"paddingInner": 0.46, "paddingOuter": 0.153, "align": 0.5}, "axis": {"title": null, "labelAngle": 0, "ticks": false, "labelPadding": 2.5, "labelFontSize": 7, "labelExpr": "split(datum.label,' ')", "labelLineHeight": 9}}},
 "layer": [
  {"mark": {"type": "bar", "stroke": "#333", "strokeWidth": 0.6}, "encoding": {"y": {"field": "value", "type": "quantitative", "scale": {"domain": [0, 4], "nice": false}, "axis": {"values": [0, 1, 2, 3, 4], "labelOverlap": false, "title": "A/N ratio", "tickSize": 2.5, "labelPadding": 0.5, "titlePadding": 1.5}}, "color": {"field": "g", "type": "nominal", "scale": {"domain": ["Nonisolated", "Mother removed", "Whisker mask", "Isolated"], "range": ["#2a2a30", "#1ba34e", "#1f5cbf", "#c6c6c6"]}, "legend": null}}},
  {"mark": {"type": "rule", "color": "#333", "strokeWidth": 0.8}, "encoding": {"y": {"field": "lo", "type": "quantitative", "scale": {"domain": [0, 4], "nice": false}, "axis": {"values": [0, 1, 2, 3, 4], "labelOverlap": false, "title": "A/N ratio", "tickSize": 2.5, "labelPadding": 0.5, "titlePadding": 1.5}}, "y2": {"field": "hi"}}},
  {"mark": {"type": "tick", "color": "#333", "size": 5, "thickness": 0.8}, "encoding": {"y": {"field": "hi", "type": "quantitative", "scale": {"domain": [0, 4], "nice": false}, "axis": {"values": [0, 1, 2, 3, 4], "labelOverlap": false, "title": "A/N ratio", "tickSize": 2.5, "labelPadding": 0.5, "titlePadding": 1.5}}}},
  {"mark": {"type": "text", "fontSize": 9, "baseline": "alphabetic", "dy": 0.5}, "encoding": {"y": {"field": "hi", "type": "quantitative", "scale": {"domain": [0, 4], "nice": false}, "axis": {"values": [0, 1, 2, 3, 4], "labelOverlap": false, "title": "A/N ratio", "tickSize": 2.5, "labelPadding": 0.5, "titlePadding": 1.5}}, "text": {"field": "sig"}}}
 ]
},
{"width": 34, "height": 71, "data": {"name": "blank"}, "mark": {"type": "point", "opacity": 0}},
{
 "width": 79, "height": 71,
 "data": {"name": "bF"},
 "encoding": {"x": {"field": "g", "type": "nominal", "sort": null, "scale": {"paddingInner": 0.51, "paddingOuter": 0.22, "align": 0.61}, "axis": {"title": null, "labelAngle": 0, "ticks": false, "labelPadding": 2.5, "labelFontSize": 7, "labelExpr": "split(datum.label,' ')", "labelLineHeight": 9}}},
 "layer": [
  {"mark": {"type": "bar", "stroke": "#333", "strokeWidth": 0.6}, "encoding": {"y": {"field": "value", "type": "quantitative", "scale": {"domain": [0, 4], "nice": false}, "axis": {"values": [0, 1, 2, 3, 4], "labelOverlap": false, "title": "A/N ratio", "tickSize": 2.5, "labelPadding": 0.5, "titlePadding": 1.5}}, "color": {"field": "g", "type": "nominal", "scale": {"domain": ["Nonisolated", "Isolated"], "range": ["#2a2a30", "#c6c6c6"]}, "legend": null}}},
  {"mark": {"type": "rule", "color": "#333", "strokeWidth": 0.8}, "encoding": {"y": {"field": "lo", "type": "quantitative", "scale": {"domain": [0, 4], "nice": false}, "axis": {"values": [0, 1, 2, 3, 4], "labelOverlap": false, "title": "A/N ratio", "tickSize": 2.5, "labelPadding": 0.5, "titlePadding": 1.5}}, "y2": {"field": "hi"}}},
  {"mark": {"type": "tick", "color": "#333", "size": 5, "thickness": 0.8}, "encoding": {"y": {"field": "hi", "type": "quantitative", "scale": {"domain": [0, 4], "nice": false}, "axis": {"values": [0, 1, 2, 3, 4], "labelOverlap": false, "title": "A/N ratio", "tickSize": 2.5, "labelPadding": 0.5, "titlePadding": 1.5}}}},
  {"mark": {"type": "text", "fontSize": 9, "baseline": "alphabetic", "dy": 0.5}, "encoding": {"y": {"field": "hi", "type": "quantitative", "scale": {"domain": [0, 4], "nice": false}, "axis": {"values": [0, 1, 2, 3, 4], "labelOverlap": false, "title": "A/N ratio", "tickSize": 2.5, "labelPadding": 0.5, "titlePadding": 1.5}}, "text": {"field": "sig"}}}
 ]
}
]
}
]
}
